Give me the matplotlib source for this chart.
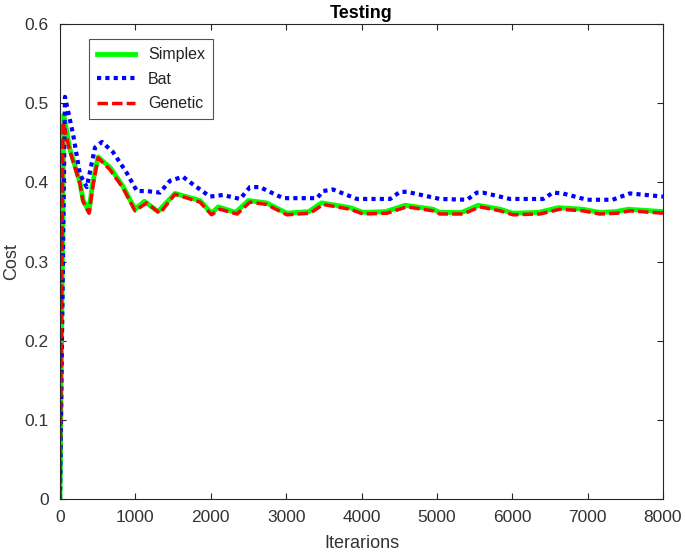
import matplotlib
matplotlib.use("Agg")
import matplotlib.pyplot as plt

plt.rcParams['font.family'] = ['Liberation Sans', 'DejaVu Sans']

# Genetic (red)
gen_x = [0, 40, 130, 265, 305, 385, 440, 505, 663, 835, 995, 1150, 1326, 1525,
         1857, 2010, 2120, 2350, 2520, 2740, 3010, 3320, 3490, 3850, 4020, 4340,
         4600, 4950, 5040, 5350, 5570, 5840, 6010, 6370, 6630, 6940, 7160, 7390,
         7560, 8000]
gen_y = [0.0, 0.476, 0.44, 0.398, 0.376, 0.361, 0.397, 0.431, 0.416, 0.393, 0.364,
         0.374, 0.361, 0.385, 0.375, 0.359, 0.366, 0.36, 0.375, 0.372, 0.359,
         0.361, 0.372, 0.366, 0.36, 0.361, 0.369, 0.364, 0.36, 0.36, 0.369,
         0.364, 0.359, 0.36, 0.366, 0.364, 0.36, 0.361, 0.364, 0.361]

# Simplex (green)
sim_x = [0, 50, 130, 265, 305, 385, 430, 505, 663, 835, 995, 1120, 1300, 1525,
         1857, 2010, 2100, 2330, 2500, 2740, 3010, 3300, 3470, 3850, 4020, 4320,
         4580, 4950, 5040, 5330, 5550, 5840, 6010, 6350, 6610, 6940, 7160, 7370,
         7540, 8000]
sim_y = [0.0, 0.485, 0.442, 0.4, 0.378, 0.363, 0.398, 0.432, 0.419, 0.395, 0.366,
         0.376, 0.363, 0.386, 0.377, 0.361, 0.369, 0.362, 0.377, 0.374, 0.361,
         0.363, 0.374, 0.368, 0.362, 0.363, 0.371, 0.366, 0.362, 0.362, 0.371,
         0.366, 0.361, 0.362, 0.368, 0.366, 0.362, 0.363, 0.366, 0.363]

# Bat (blue)
bat_x = [0, 66, 175, 265, 355, 465, 557, 705, 885, 1020, 1150, 1326, 1460, 1630,
         1770, 1990, 2160, 2390, 2520, 2650, 2960, 3410, 3490, 3620, 3940, 4380,
         4510, 4600, 5040, 5400, 5530, 5610, 5970, 6410, 6540, 6670, 6990, 7330,
         7560, 8000]
bat_y = [0.0, 0.508, 0.46, 0.41, 0.394, 0.444, 0.451, 0.438, 0.412, 0.389, 0.389,
         0.387, 0.402, 0.407, 0.397, 0.382, 0.384, 0.379, 0.394, 0.394, 0.38,
         0.38, 0.389, 0.391, 0.379, 0.379, 0.388, 0.388, 0.379, 0.378, 0.387,
         0.387, 0.379, 0.379, 0.387, 0.386, 0.378, 0.378, 0.386, 0.382]

x_ticks = [0, 1000, 2000, 3000, 4000, 5000, 6000, 7000, 8000]
y_ticks = [0, 0.1, 0.2, 0.3, 0.4, 0.5, 0.6]
y_labels = ['0', '0.1', '0.2', '0.3', '0.4', '0.5', '0.6']

txt = '#333333'
fig = plt.figure(figsize=(6.85, 5.58), dpi=100)
ax = fig.add_axes([60/685, 59/558, 603/685, 475/558])

ax.plot(sim_x, sim_y, color='#00ff00', lw=3.5, ls='-', label='Simplex')
ax.plot(bat_x, bat_y, color='#0000ff', lw=3, ls=(0, (1, 1)), label='Bat')
ax.plot(gen_x, gen_y, color='#ff0000', lw=2.5, ls=(0, (3, 1.2)), label='Genetic')

ax.set_xlim(0, 8000)
ax.set_ylim(0, 0.6)
ax.set_xticks(x_ticks)
ax.set_yticks(y_ticks)
ax.set_yticklabels(y_labels)
ax.tick_params(direction='in', labelsize=12.5, colors='#262626', labelcolor=txt,
               length=4, pad=8, top=True, right=True)
for s in ax.spines.values():
    s.set_color('#262626')
    s.set_linewidth(0.8)

ax.set_title('Testing', fontsize=13, fontweight='bold', pad=4)
ax.set_xlabel('Iterarions', fontsize=13, color=txt, labelpad=7)
ax.set_ylabel('Cost', fontsize=13, color=txt, labelpad=3)

leg = ax.legend(loc='upper left', bbox_to_anchor=(0.035, 0.985), fontsize=11.5,
                frameon=True, fancybox=False, edgecolor='#262626',
                handlelength=2.4, borderpad=0.5, labelspacing=0.6)
leg.get_frame().set_linewidth(0.8)
for t in leg.get_texts():
    t.set_color('#222222')

fig.savefig('out.png', dpi=100)
